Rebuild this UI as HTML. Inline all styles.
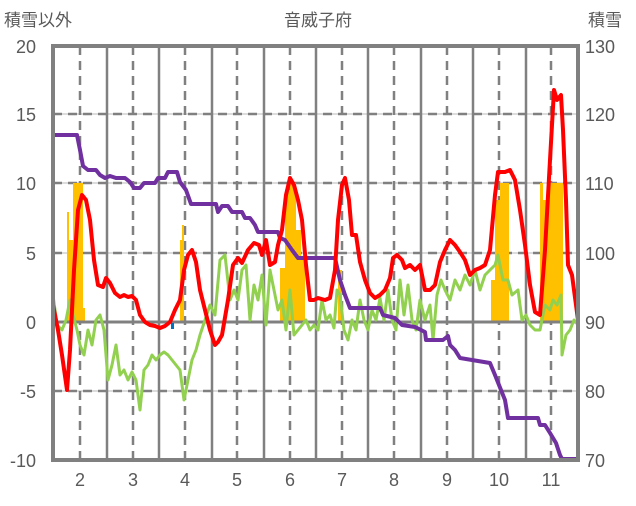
<!DOCTYPE html>
<html><head><meta charset="utf-8"><style>
body{margin:0;background:#fff;}
svg text{font-family:"Liberation Sans","Noto Sans CJK JP",sans-serif;fill:#595959;}
</style></head><body>
<svg width="636" height="501" viewBox="0 0 636 501" xmlns="http://www.w3.org/2000/svg">
<rect width="636" height="501" fill="#fff"/>
<g stroke="#d0d0d0" stroke-width="1.5">
<line x1="53" y1="114" x2="578" y2="114"/><line x1="53" y1="183" x2="578" y2="183"/><line x1="53" y1="253" x2="578" y2="253"/><line x1="53" y1="391" x2="578" y2="391"/>
</g>
<g stroke="#808080" stroke-width="2.5" stroke-dasharray="9,6">
<line x1="53" y1="114" x2="578" y2="114"/><line x1="53" y1="183" x2="578" y2="183"/><line x1="53" y1="253" x2="578" y2="253"/><line x1="53" y1="391" x2="578" y2="391"/>
<line x1="80" y1="46" x2="80" y2="460"/><line x1="133" y1="46" x2="133" y2="460"/><line x1="185" y1="46" x2="185" y2="460"/><line x1="237" y1="46" x2="237" y2="460"/><line x1="290" y1="46" x2="290" y2="460"/><line x1="342" y1="46" x2="342" y2="460"/><line x1="394" y1="46" x2="394" y2="460"/><line x1="447" y1="46" x2="447" y2="460"/><line x1="499" y1="46" x2="499" y2="460"/><line x1="551" y1="46" x2="551" y2="460"/>
</g>
<g stroke="#808080" stroke-width="2.5">
<line x1="107" y1="46" x2="107" y2="460"/><line x1="159" y1="46" x2="159" y2="460"/><line x1="212" y1="46" x2="212" y2="460"/><line x1="264" y1="46" x2="264" y2="460"/><line x1="316" y1="46" x2="316" y2="460"/><line x1="368" y1="46" x2="368" y2="460"/><line x1="421" y1="46" x2="421" y2="460"/><line x1="473" y1="46" x2="473" y2="460"/><line x1="526" y1="46" x2="526" y2="460"/>
</g>
<g fill="#ffc000">
<rect x="67" y="212" width="2" height="110"/><rect x="69" y="240" width="4" height="82"/><rect x="73" y="183" width="10" height="139"/><rect x="83" y="308" width="2" height="14"/>
<rect x="180" y="240" width="3" height="82"/><rect x="182" y="225" width="2" height="97"/>
<rect x="280" y="268" width="5" height="54"/><rect x="285" y="190" width="5" height="132"/><rect x="290" y="183" width="6" height="139"/><rect x="296" y="230" width="5" height="92"/><rect x="301" y="260" width="4" height="62"/>
<rect x="338" y="270" width="4" height="52"/>
<rect x="491" y="280" width="4" height="42"/><rect x="495" y="200" width="5" height="122"/><rect x="500" y="183" width="9" height="139"/>
<rect x="540" y="183" width="3" height="139"/><rect x="543" y="200" width="6" height="122"/><rect x="549" y="183" width="14" height="139"/>
</g>
<line x1="53" y1="322" x2="578" y2="322" stroke="#808080" stroke-width="3"/>
<rect x="171" y="323" width="3" height="6" fill="#0070c0"/>
<polyline fill="none" stroke="#92d050" stroke-width="3" stroke-linejoin="round" points="53,295 57,325 62,330 66,320 70,300 73,315 77,330 80,345 84,355 88,330 92,345 96,320 100,315 104,330 108,380 112,365 116,345 120,375 124,370 128,380 132,372 136,380 140,410 144,370 148,365 152,355 156,360 160,355 164,352 168,355 172,360 176,365 180,370 184,400 188,380 192,360 196,350 200,335 205,320 210,305 215,315 220,260 225,255 230,300 234,290 238,300 242,270 246,265 250,320 254,285 258,300 262,275 266,325 270,270 274,290 278,310 282,300 286,330 290,290 294,335 298,330 302,325 306,320 310,330 314,325 318,330 322,300 326,320 330,315 334,328 337,290 340,295 344,330 348,340 352,320 356,330 360,300 364,320 368,330 372,310 376,320 380,298 384,320 388,290 392,320 396,330 400,280 404,315 408,285 412,320 416,330 420,300 425,320 430,305 433,340 437,295 441,280 445,290 450,300 455,280 460,290 465,275 470,285 475,270 480,290 485,275 490,270 495,265 498,255 503,280 508,280 512,295 518,290 522,320 526,315 530,325 535,330 540,330 545,305 550,310 553,300 557,305 561,295 562,355 566,335 570,330 574,320 578,325"/>
<polyline fill="none" stroke="#7030a0" stroke-width="4" stroke-linejoin="round" points="53,135 77,135 80,150 83,166 88,170 96,170 100,175 105,178 110,176 116,178 125,178 130,182 134,188 140,188 144,183 155,183 158,178 165,178 168,172 177,172 180,182 186,190 191,204 216,204 218,212 222,206 228,206 232,212 242,212 245,218 250,218 255,225 258,232 278,232 280,238 285,240 292,250 298,258 335,258 340,280 345,295 350,308 380,308 383,315 395,318 402,325 415,327 425,332 426,340 443,340 448,336 450,345 455,350 460,358 490,363 495,375 505,400 508,418 538,418 540,425 545,425 550,433 556,443 560,455 562,459 578,459"/>
<polyline fill="none" stroke="#ff0000" stroke-width="4" stroke-linejoin="round" points="53,305 58,330 62,355 67,390 70,350 74,270 78,210 82,195 86,200 90,220 94,260 98,285 103,287 106,278 110,283 115,293 120,297 124,295 128,297 132,296 136,300 140,315 145,322 150,325 155,326 160,328 165,326 170,322 175,310 180,300 184,270 188,255 192,250 196,262 200,290 205,310 210,330 215,345 218,342 222,335 228,300 233,265 238,258 242,263 248,250 254,243 259,245 262,255 266,240 270,265 275,262 278,245 282,230 286,195 290,178 294,185 298,200 302,220 306,265 310,300 314,300 318,298 325,300 330,298 335,270 338,220 342,185 345,178 349,200 352,235 356,235 360,262 365,280 370,293 375,298 380,295 385,290 390,278 393,258 397,255 402,260 405,268 410,265 415,270 420,265 425,290 430,290 435,285 440,262 445,250 450,240 455,245 460,252 465,260 470,275 475,270 480,268 485,265 490,250 495,195 498,172 505,172 510,170 515,180 520,210 525,245 530,285 535,312 540,315 545,250 550,160 554,90 557,100 561,95 563,130 566,200 568,265 572,275 576,305 578,320"/>
<rect x="53" y="46" width="525" height="414" fill="none" stroke="#808080" stroke-width="4"/>
<g font-size="18" text-anchor="end">
<text x="36" y="53">20</text><text x="36" y="121">15</text><text x="36" y="190">10</text><text x="36" y="260">5</text><text x="36" y="329">0</text><text x="36" y="398">-5</text><text x="36" y="467">-10</text>
</g>
<g font-size="18" text-anchor="start">
<text x="585" y="53">130</text><text x="585" y="121">120</text><text x="585" y="190">110</text><text x="585" y="260">100</text><text x="585" y="329">90</text><text x="585" y="398">80</text><text x="585" y="467">70</text>
</g>
<g font-size="18" text-anchor="middle">
<text x="80" y="486">2</text><text x="133" y="486">3</text><text x="185" y="486">4</text><text x="237" y="486">5</text><text x="290" y="486">6</text><text x="342" y="486">7</text><text x="394" y="486">8</text><text x="447" y="486">9</text><text x="499" y="486">10</text><text x="551" y="486">11</text>
</g>
<text x="4" y="26" font-size="17">積雪以外</text>
<text x="318" y="26" font-size="17" text-anchor="middle">音威子府</text>
<text x="588" y="26" font-size="17">積雪</text>
</svg>
</body></html>
